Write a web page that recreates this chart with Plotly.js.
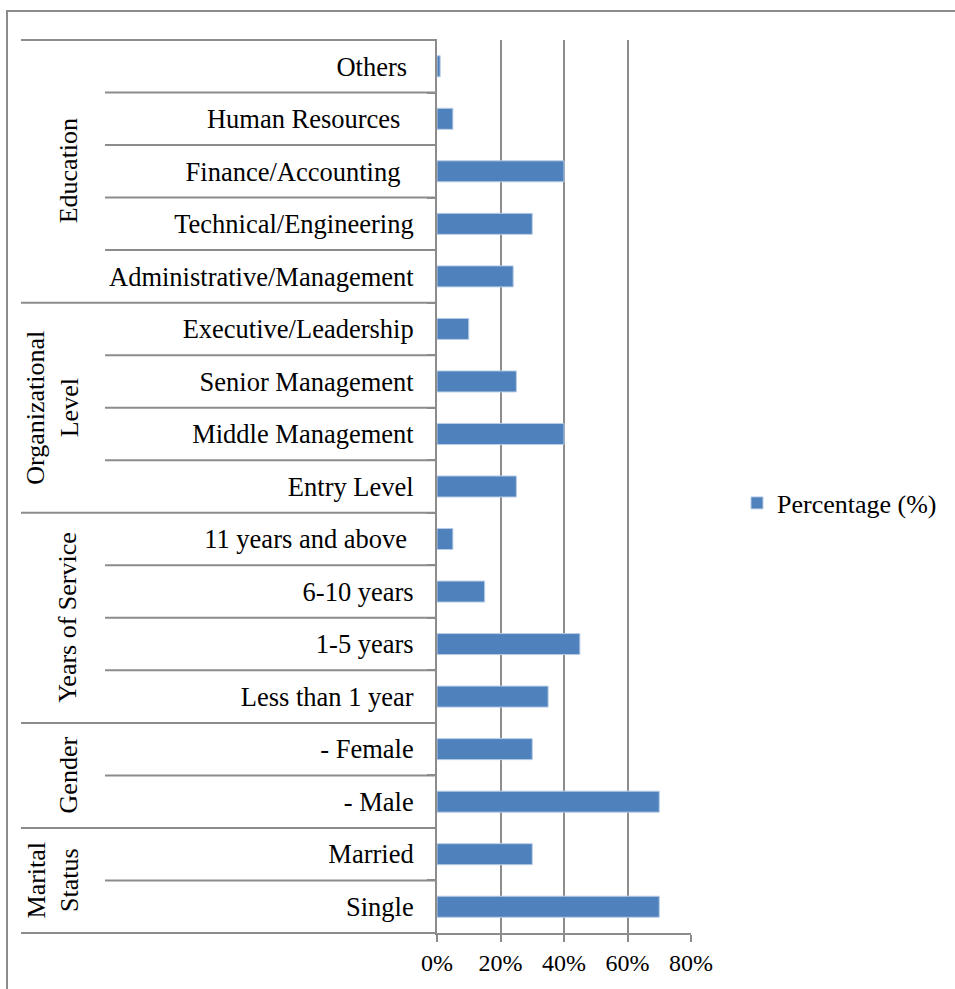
<!DOCTYPE html>
<html>
<head>
<meta charset="utf-8">
<script src="https://cdn.plot.ly/plotly-3.0.1.min.js"></script>
<style>
  html, body { margin: 0; padding: 0; background: #fff; }
  #chart { width: 955px; height: 989px; }
</style>
</head>
<body>
<div id="chart"></div>
<script>
// Categories listed bottom-to-top (as Plotly stacks a category y axis)
const categories = [
  'Single', 'Married',
  '- Male', '- Female',
  'Less than 1 year', '1-5 years', '6-10 years', '11 years and above\u00a0',
  'Entry Level', 'Middle Management', 'Senior Management', 'Executive/Leadership',
  'Administrative/Management', 'Technical/Engineering', 'Finance/Accounting\u00a0\u00a0', 'Human Resources\u00a0\u00a0', 'Others\u00a0'
];
const percentages = [70, 30, 70, 30, 35, 45, 15, 5, 25, 40, 25, 10, 24, 30, 40, 5, 1];
const groupNames = ['Marital<br>Status', 'Gender', 'Years of Service', 'Organizational<br>Level', 'Education'];
const groupSizes = [2, 2, 4, 4, 5];
const seriesName = 'Percentage (%)';
const xTicks = [0, 20, 40, 60, 80];
const xTickLabels = ['0%', '20%', '40%', '60%', '80%'];

// plot-area geometry (pixels)
const W = 955, Hh = 989;
const L = 437, R = 691, T = 40, B = 933;
const PW = R - L, PH = B - T;
const px = v => (v - L) / PW;
const py = v => (B - v) / PH;
const N = categories.length;
const yBound = b => (b + 1) / N;   // boundary above index b -> paper y (range [-0.5, N-0.5])

const FONT = 'Liberation Serif, Times New Roman, serif';
const GRAY = '#8c8c8c';

const shapes = [];
// outer frame
shapes.push({type: 'rect', xref: 'paper', yref: 'paper',
  x0: px(7), x1: px(1010), y0: py(1010), y1: py(11),
  line: {color: GRAY, width: 2}, fillcolor: 'rgba(0,0,0,0)', layer: 'below'});

// group boundaries
const groupBounds = new Set([-1]);
let acc = -1;
groupSizes.forEach(s => { acc += s; groupBounds.add(acc); });
for (let b = -1; b < N; b++) {
  const y = yBound(b);
  const isGroup = groupBounds.has(b);
  shapes.push({type: 'line', xref: 'paper', yref: 'paper',
    x0: px(isGroup ? 21 : 105), x1: 0, y0: y, y1: y,
    line: {color: GRAY, width: 2}, layer: 'below'});
}

// group labels
const annotations = [];
let start = 0;
groupSizes.forEach((s, g) => {
  const center = start + (s - 1) / 2;
  const two = groupNames[g].includes('<br>');
  annotations.push({
    xref: 'paper', yref: 'paper',
    x: px(two ? 53 : 68), y: (center + 0.5) / N,
    text: groupNames[g], showarrow: false, textangle: -90,
    xanchor: 'center', yanchor: 'middle',
    font: {family: FONT, size: 26, color: '#000'}
  });
  start += s;
});

const trace = {
  type: 'bar', orientation: 'h',
  x: percentages, y: categories,
  name: seriesName, showlegend: true,
  marker: {color: '#4F81BD', line: {color: '#b9cde5', width: 1}},
  hoverinfo: 'x+y'
};

const layout = {
  width: W, height: Hh,
  margin: {l: L, r: W - R, t: T, b: Hh - B, pad: 0},
  paper_bgcolor: '#fff', plot_bgcolor: '#fff',
  font: {family: FONT, color: '#000'},
  bargap: 0.6,
  showlegend: true,
  legend: {
    x: px(737), y: py(503), xanchor: 'left', yanchor: 'middle',
    font: {family: FONT, size: 26, color: '#000'},
    bgcolor: 'rgba(0,0,0,0)', itemwidth: 30
  },
  xaxis: {
    range: [0, 80], tickmode: 'array', tickvals: xTicks, ticktext: xTickLabels,
    showgrid: true, gridcolor: GRAY, gridwidth: 2,
    zeroline: false, showline: true, linecolor: GRAY, linewidth: 2,
    ticks: 'outside', ticklen: 7, tickwidth: 2, tickcolor: GRAY,
    tickfont: {family: FONT, size: 24, color: '#000'},
    fixedrange: true
  },
  yaxis: {
    type: 'category', range: [-0.5, N - 0.5],
    showgrid: false, zeroline: false,
    showline: true, linecolor: GRAY, linewidth: 2,
    ticks: 'outside', tickson: 'boundaries', ticklen: 8, tickwidth: 2, tickcolor: GRAY,
    ticklabelstandoff: 16,
    tickfont: {family: FONT, size: 26.5, color: '#000'},
    fixedrange: true
  },
  shapes: shapes,
  annotations: annotations
};

Plotly.newPlot('chart', [trace], layout, {displayModeBar: false});
</script>
</body>
</html>
